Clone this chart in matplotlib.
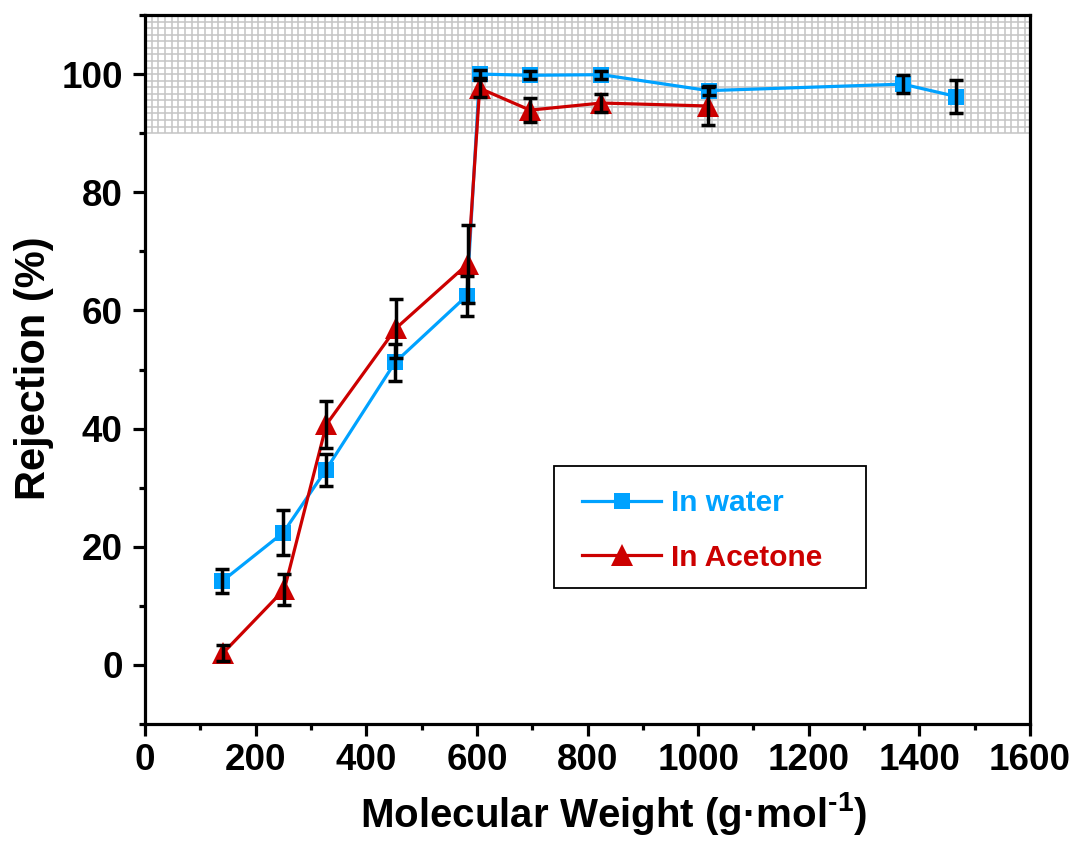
import numpy as np
import matplotlib
matplotlib.use("Agg")
import matplotlib.pyplot as plt
from matplotlib.lines import Line2D
from matplotlib.patches import Rectangle

plt.rcParams['font.family'] = ['Liberation Sans', 'DejaVu Sans']
plt.rcParams['font.weight'] = 'bold'
plt.rcParams['mathtext.fontset'] = 'custom'
plt.rcParams['mathtext.rm'] = 'Liberation Sans:bold'
plt.rcParams['mathtext.bf'] = 'Liberation Sans:bold'
plt.rcParams['mathtext.default'] = 'bf'

# Rejection data (molecular weight in g/mol, rejection in %)
water_mw = [140, 250, 327, 452, 582, 605, 696, 825, 1019, 1370, 1467]
water_rej = [14.2, 22.4, 33.0, 51.2, 62.5, 100.0, 99.8, 99.9, 97.2, 98.3, 96.2]
water_err = [2.0, 3.8, 2.7, 3.15, 3.4, 0.7, 0.7, 0.7, 0.7, 1.55, 2.8]

acetone_mw = [141, 252, 328, 454, 584, 605, 696, 825, 1017]
acetone_rej = [2.0, 12.8, 40.7, 57.0, 67.9, 97.6, 93.9, 95.1, 94.6]
acetone_err = [1.4, 2.6, 4.0, 5.0, 6.6, 1.4, 2.0, 1.6, 3.2]

x_ticks = [0, 200, 400, 600, 800, 1000, 1200, 1400, 1600]
y_ticks = [0, 20, 40, 60, 80, 100]

blue = '#00A2FF'
red = '#CC0000'

fig = plt.figure(figsize=(10.74, 8.5), dpi=100)
ax = fig.add_axes([145 / 1074, 1 - 724 / 850, 885 / 1074, 709 / 850])
ax.set_xlim(0, 1600)
ax.set_ylim(-10, 110)

# shaded grid band marking the >90 % rejection zone
grid_x = np.arange(0, 1601, 12.05)
grid_y = np.arange(90, 110.01, 20 / 18)
ax.vlines(grid_x, 90, 110, colors='#c4c4c4', linewidth=1.1, zorder=0.5)
ax.hlines(grid_y, 0, 1600, colors='#c4c4c4', linewidth=1.1, zorder=0.5)

ax.plot(water_mw, water_rej, '-', color=blue, linewidth=2.3, zorder=2)
ax.plot(acetone_mw, acetone_rej, '-', color=red, linewidth=2.3, zorder=3)
ax.plot(water_mw, water_rej, 's', color=blue, markersize=11.5, zorder=4,
        markeredgewidth=0)
ax.plot(acetone_mw, acetone_rej, '^', color=red, markersize=15.5, zorder=5,
        markeredgewidth=0)
for xs, ys, es in ((water_mw, water_rej, water_err),
                   (acetone_mw, acetone_rej, acetone_err)):
    ax.errorbar(xs, ys, yerr=es, fmt='none', ecolor='black',
                elinewidth=2.5, capsize=5, capthick=2.5, zorder=6)

for s in ax.spines.values():
    s.set_linewidth(2.3)
    s.set_zorder(7)

ax.set_xticks(x_ticks)
ax.set_yticks(y_ticks)
ax.set_xticks(np.arange(100, 1600, 200), minor=True)
ax.set_yticks(np.arange(-10, 111, 20), minor=True)
ax.tick_params(axis='both', which='major', direction='out', length=8.6, width=2.3,
               labelsize=26.5)
ax.tick_params(axis='x', which='major', pad=5)
ax.tick_params(axis='y', which='major', pad=7.5)
ax.tick_params(axis='both', which='minor', direction='out', length=4.3, width=2.3)
for lab in ax.get_xticklabels() + ax.get_yticklabels():
    lab.set_fontweight('bold')

ax.set_xlabel(r'Molecular Weight (g·mol$^{\text{-1}}$)', fontsize=29,
              fontweight='bold')
ax.set_ylabel('Rejection (%)', fontsize=30, fontweight='bold')
ax.xaxis.set_label_coords((614 - 145) / 885, -0.093)
ax.yaxis.set_label_coords(-0.103, 0.5025)

# legend frame and entries
ax.add_patch(Rectangle((0.4621, 0.1918), 0.3525, 0.1721, transform=ax.transAxes,
                       facecolor='white', edgecolor='black', linewidth=1.3,
                       zorder=8))
handles = [
    Line2D([], [], color=blue, marker='s', markersize=11.5, linewidth=2.3,
           markeredgewidth=0),
    Line2D([], [], color=red, marker='^', markersize=15.5, linewidth=2.3,
           markeredgewidth=0),
]
leg = ax.legend(handles, ['In water', 'In Acetone'], loc='center left',
                bbox_to_anchor=((582 - 145) / 885, (724 - 530.5) / 709),
                frameon=False, borderpad=0, borderaxespad=0,
                handlelength=2.65, handletextpad=0.33, labelspacing=0.89,
                prop={'size': 21.5, 'weight': 'bold'})
leg.texts[0].set_color(blue)
leg.texts[1].set_color(red)
leg.set_zorder(9)

fig.savefig('out.png', dpi=100)
